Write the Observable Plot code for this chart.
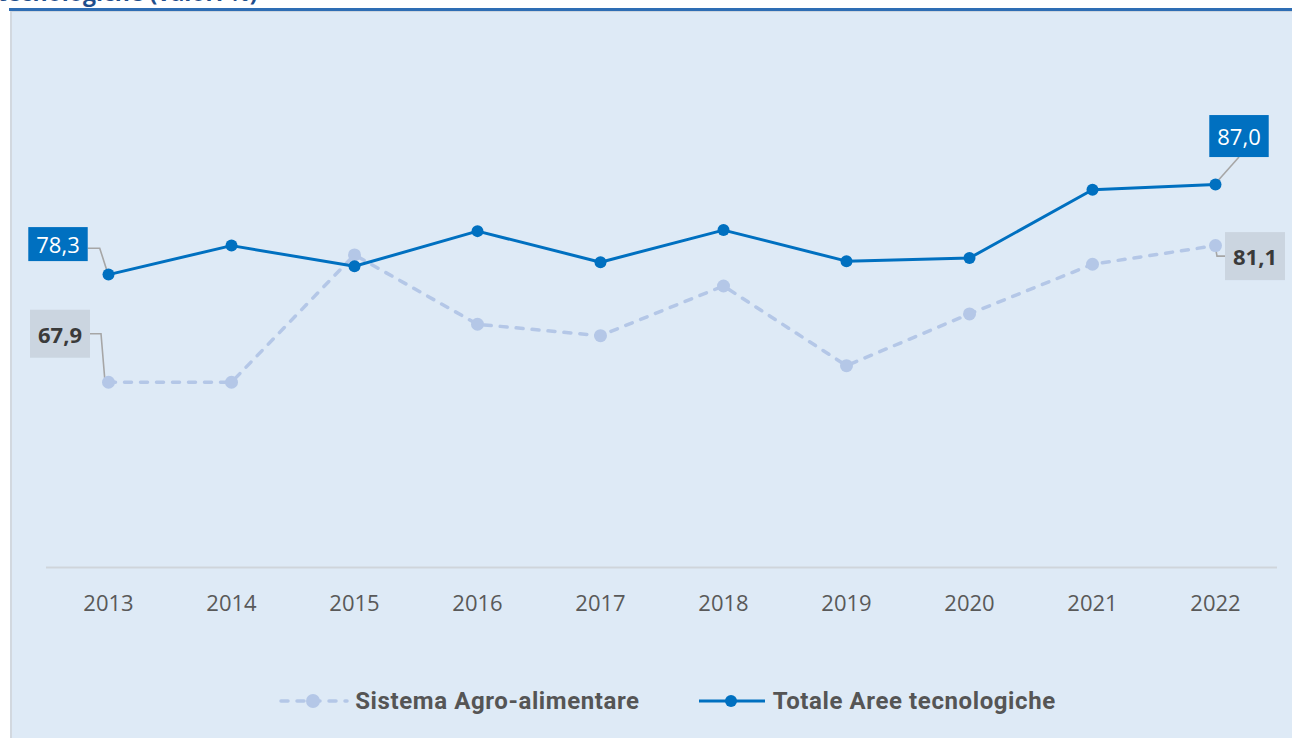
<!DOCTYPE html>
<html>
<head>
<meta charset="utf-8">
<script src="https://cdn.jsdelivr.net/npm/d3@7"></script>
<script src="https://cdn.jsdelivr.net/npm/@observablehq/plot@0.6"></script>
<style>
  html, body { margin: 0; padding: 0; background: #ffffff; }
  #page { position: relative; width: 1292px; height: 738px; overflow: hidden; background: #fff; }
  #title { position: absolute; top: -23px; left: -3px; font: bold 23px/30px "Open Sans", sans-serif; color: #1F4E8C; white-space: nowrap; }
  #bar { position: absolute; top: 8px; left: 9px; width: 1283px; height: 3px; background: #2E6DB4; }
  #panel { position: absolute; top: 11px; left: 10px; width: 1282px; height: 727px; background: #DEEAF6; border-left: 2px solid #D2D8DF; border-top: 1px solid #CCD5DF; box-sizing: border-box; }
  #chart { position: absolute; top: 0; left: 0; }
  #legend { position: absolute; top: 687px; left: 21px; width: 1292px; display: flex; justify-content: center; gap: 56px; font: bold 24px/28px Roboto, sans-serif; letter-spacing: 0.6px; color: #555; }
  .item { display: flex; align-items: center; gap: 5px; }
</style>
</head>
<body>
<div id="page">
  <div id="title">tecnologiche (valori %)</div>
  <div id="bar"></div>
  <div id="panel"></div>
  <div id="chart"></div>
  <div id="legend"></div>
</div>
<script>
const years = ["2013","2014","2015","2016","2017","2018","2019","2020","2021","2022"];
const totale = [78.3, 81.1, 79.1, 82.5, 79.5, 82.6, 79.6, 79.9, 86.5, 87.0];
const agro   = [67.9, 67.9, 80.2, 73.5, 72.4, 77.2, 69.5, 74.5, 79.3, 81.1];
const seriesNames = ["Sistema Agro-alimentare", "Totale Aree tecnologiche"];
const colTot = "#0070C0", colAgro = "#B4C7E7";

const dTot = years.map((y, i) => ({year: y, value: totale[i]}));
const dAgro = years.map((y, i) => ({year: y, value: agro[i]}));
const fmt = v => v.toFixed(1).replace(".", ",");

// labels: first and last of each series (offsets in pixels from the data point)
const labTot = [
  {year: years[0], value: totale[0], dx: -50, dy: -21, padY: 2},
  {year: years[9], value: totale[9], dx: 24, dy: -39, padY: 6}
];
const labAgro = [
  {year: years[0], value: agro[0], dx: -48, dy: -39, padY: 9},
  {year: years[9], value: agro[9], dx: 40, dy: 20, padY: 9}
];

const chart = Plot.plot({
  width: 1292,
  height: 640,
  marginLeft: 46,
  marginRight: 15,
  marginTop: 49.5,
  marginBottom: 73,
  style: {background: "transparent", fontFamily: "'Open Sans', sans-serif"},
  x: {type: "point", domain: years, padding: 0.5, label: null},
  y: {domain: [50, 100], axis: null},
  marks: [
    Plot.ruleY([50], {stroke: "#CFD5DB", strokeWidth: 2}),
    Plot.axisX({tickSize: 0, tickPadding: 28, fontSize: 22, color: "#595959", fill: "#595959"}),
    Plot.line(dAgro, {x: "year", y: "value", stroke: colAgro, strokeWidth: 3.5, strokeDasharray: "7,9", strokeLinecap: "round"}),
    Plot.dot(dAgro, {x: "year", y: "value", fill: colAgro, r: 6.5}),
    Plot.line(dTot, {x: "year", y: "value", stroke: colTot, strokeWidth: 3}),
    Plot.dot(dTot, {x: "year", y: "value", fill: colTot, r: 6}),
    Plot.text(labTot, {x: "year", y: "value", text: d => fmt(d.value), fill: "#fff", fontSize: 22, ariaDescription: "labtot"}),
    Plot.text(labAgro, {x: "year", y: "value", text: d => fmt(d.value), fill: "#3a3a3a", fontSize: 22, fontWeight: "bold", ariaDescription: "labagro"})
  ]
});
document.getElementById("chart").appendChild(chart);

// per-label offsets, boxes and leader lines, positioned through the chart's own scales
const sx = chart.scale("x"), sy = chart.scale("y");
const svg = d3.select(chart);
function decorate(label, data, boxFill, padX, connectors) {
  const g = svg.select(`g[aria-description="${label}"]`);
  g.attr("transform", null);
  const lines = svg.insert("g", `g[aria-description="${label}"]`);
  g.selectAll("text").each(function(_, i) {
    const d = data[i];
    const px = sx.apply(d.year), py = sy.apply(d.value);
    const t = d3.select(this);
    t.attr("transform", null).attr("x", px + d.dx).attr("y", py + d.dy);
    const bb = this.getBBox();
    const box = {x: bb.x - padX, y: bb.y - d.padY, w: bb.width + 2 * padX, h: bb.height + 2 * d.padY};
    g.insert("rect", () => this).attr("x", box.x).attr("y", box.y).attr("width", box.w).attr("height", box.h).attr("fill", boxFill);
    const pts = connectors[i](px, py, box);
    lines.append("polyline").attr("points", pts.map(p => p.join(",")).join(" "))
      .attr("fill", "none").attr("stroke", "#A6A6A6").attr("stroke-width", 1.6);
  });
}
decorate("labtot", labTot, colTot, 8, [
  (px, py, b) => [[b.x + b.w, b.y + b.h * 0.62], [b.x + b.w + 12, b.y + b.h * 0.62], [px, py]],
  (px, py, b) => [[b.x + b.w / 2, b.y + b.h], [px, py]]
]);
decorate("labagro", labAgro, "#CBD5E0", 8, [
  (px, py, b) => [[b.x + b.w, b.y + b.h / 2], [b.x + b.w + 11, b.y + b.h / 2], [px - 3, py]],
  (px, py, b) => [[px, py], [px + 2, b.y + b.h / 2], [b.x, b.y + b.h / 2]]
]);
// keep dots and labels above the leader lines
svg.selectAll('g[aria-label="dot"]').raise();
svg.selectAll('g[aria-description="labtot"], g[aria-description="labagro"]').raise();

// legend
const legend = d3.select("#legend");
const items = [
  {name: seriesNames[0], color: colAgro, dash: "7,9", r: 7, w: 3.5},
  {name: seriesNames[1], color: colTot, dash: null, r: 6, w: 3}
];
items.forEach(it => {
  const div = legend.append("div").attr("class", "item");
  const s = div.append("svg").attr("width", 72).attr("height", 20);
  s.append("line").attr("x1", 3).attr("x2", 69).attr("y1", 10).attr("y2", 10)
    .attr("stroke", it.color).attr("stroke-width", it.w)
    .attr("stroke-dasharray", it.dash).attr("stroke-linecap", it.dash ? "round" : "butt");
  s.append("circle").attr("cx", 35).attr("cy", 10).attr("r", it.r).attr("fill", it.color);
  div.append("span").text(it.name);
});
</script>
</body>
</html>
